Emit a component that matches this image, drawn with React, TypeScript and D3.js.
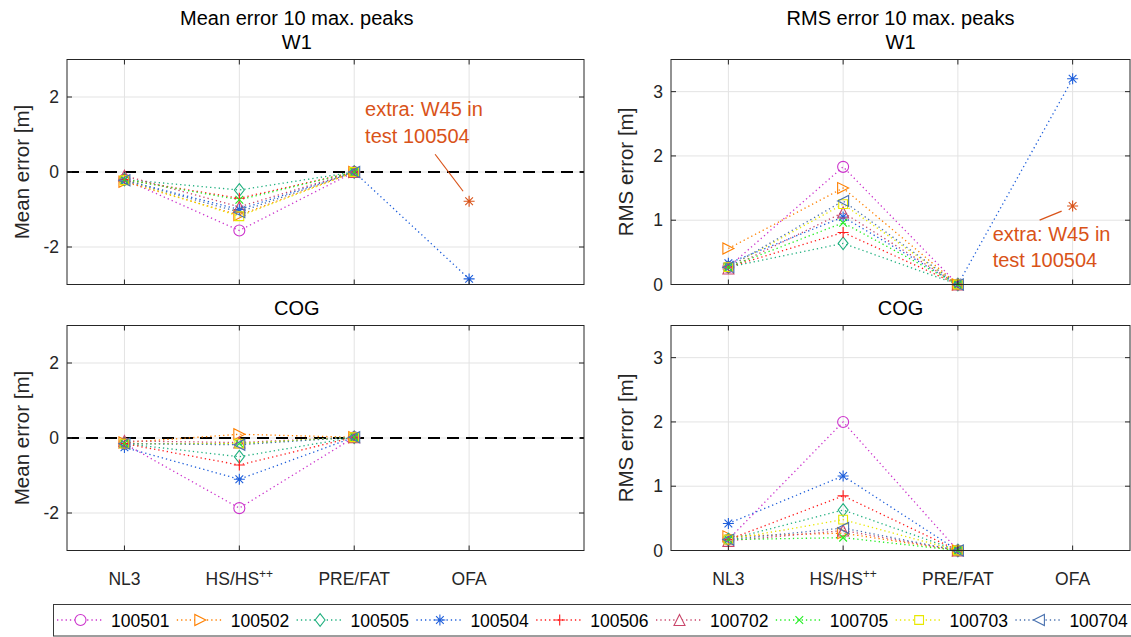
import React from "react";
import * as d3 from "d3";

const categories = ["NL3", "HS/HS++", "PRE/FAT", "OFA"];
const seriesNames = ["100501", "100502", "100505", "100504", "100506", "100702", "100705", "100703", "100704"];
const seriesColors = ["#CC33CC", "#FF8000", "#20B07F", "#1F5FDB", "#FF1A1A", "#C9476B", "#22EE22", "#E8E800", "#4A72B0"];
const seriesMarkers = ["o", ">", "d", "*", "+", "^", "x", "s", "<"];
const N = NaN;

const meanW1 = [
  [-0.2, -1.56, 0, N],
  [-0.26, -1.15, 0, N],
  [-0.2, -0.48, 0, N],
  [-0.22, -1.0, 0, -2.85],
  [-0.2, -0.7, 0, N],
  [-0.1, -0.93, 0, N],
  [-0.2, -0.74, 0, N],
  [-0.22, -1.18, 0, N],
  [-0.22, -1.07, 0, N],
];
const rmsW1 = [
  [0.27, 1.83, 0, N],
  [0.56, 1.5, 0, N],
  [0.27, 0.64, 0, N],
  [0.33, 1.05, 0, 3.2],
  [0.27, 0.81, 0, N],
  [0.25, 1.12, 0, N],
  [0.27, 0.96, 0, N],
  [0.27, 1.25, 0, N],
  [0.27, 1.3, 0, N],
];
const meanCOG = [
  [-0.15, -1.87, 0.02, N],
  [-0.12, 0.1, 0.02, N],
  [-0.15, -0.5, 0.02, N],
  [-0.25, -1.1, 0.02, N],
  [-0.15, -0.72, 0.02, N],
  [-0.08, -0.12, 0.02, N],
  [-0.15, -0.15, 0.02, N],
  [-0.15, -0.15, 0.02, N],
  [-0.15, -0.18, 0.02, N],
];
const rmsCOG = [
  [0.17, 2.0, 0, N],
  [0.22, 0.27, 0, N],
  [0.17, 0.63, 0, N],
  [0.42, 1.16, 0, N],
  [0.17, 0.85, 0, N],
  [0.15, 0.31, 0, N],
  [0.17, 0.2, 0, N],
  [0.17, 0.48, 0, N],
  [0.17, 0.35, 0, N],
];
const extraMeanW1 = -0.78;
const extraRmsW1 = 1.22;
const extraColor = "#D95319";

const FONT = "'Liberation Sans', Arial, Helvetica, sans-serif";
const AX = "#262626";
const GRID = "#e3e3e3";

function markerPath(type: string, s: number): string {
  switch (type) {
    case "o":
      return `M${s},0A${s},${s} 0 1,1 ${-s},0A${s},${s} 0 1,1 ${s},0Z`;
    case ">":
      return `M${s},0L${-s},${-s}L${-s},${s}Z`;
    case "<":
      return `M${-s},0L${s},${-s}L${s},${s}Z`;
    case "^":
      return `M0,${-s}L${s},${s}L${-s},${s}Z`;
    case "d":
      return `M0,${-s * 1.15}L${s * 0.9},0L0,${s * 1.15}L${-s * 0.9},0Z`;
    case "s": {
      const a = s * 0.8;
      return `M${-a},${-a}L${a},${-a}L${a},${a}L${-a},${a}Z`;
    }
    case "+":
      return `M${-s},0L${s},0M0,${-s}L0,${s}`;
    case "x": {
      const a = s * 0.7;
      return `M${-a},${-a}L${a},${a}M${-a},${a}L${a},${-a}`;
    }
    case "*": {
      const a = s * 0.7;
      return `M${-s},0L${s},0M0,${-s}L0,${s}M${-a},${-a}L${a},${a}M${-a},${a}L${a},${-a}`;
    }
  }
  return "";
}

type PanelProps = {
  x0: number; x1: number; y0: number; y1: number; xmax: number;
  ydom: [number, number]; yticks: number[]; data: number[][];
  zero: boolean; showX: boolean; title: string; title2?: string;
  ylabel: string; ylabelX: number; titleAtCenterData: boolean;
  extra?: number; extraText?: { dx: number; dy1: number; dy2: number; lx1: number; ly1: number; lx2: number; ly2: number };
};

function Panel(p: PanelProps) {
  const x = d3.scaleLinear().domain([0.5, p.xmax]).range([p.x0, p.x1]);
  const y = d3.scaleLinear().domain(p.ydom).range([p.y1, p.y0]);
  const line = d3
    .line<number>()
    .defined((d) => !isNaN(d))
    .x((_, i) => x(i + 1))
    .y((d) => y(d));
  const tl = 5;
  const titleX = p.titleAtCenterData ? x(2.5) : (p.x0 + p.x1) / 2;
  const ms = 5.5;
  return (
    <g>
      {categories.map((_, i) => (
        <line key={"gx" + i} x1={x(i + 1)} x2={x(i + 1)} y1={p.y0} y2={p.y1} stroke={GRID} strokeWidth={1} />
      ))}
      {p.yticks.map((t) => (
        <line key={"gy" + t} x1={p.x0} x2={p.x1} y1={y(t)} y2={y(t)} stroke={GRID} strokeWidth={1} />
      ))}
      {p.zero && (
        <line x1={p.x0} x2={p.x1} y1={y(0)} y2={y(0)} stroke="#000" strokeWidth={2} strokeDasharray="12,7" />
      )}
      {p.data.map((row, si) => (
        <path key={"l" + si} d={line(row) || ""} fill="none" stroke={seriesColors[si]} strokeWidth={1.3} strokeDasharray="1.3,3" />
      ))}
      {p.data.map((row, si) =>
        row.map((v, i) =>
          isNaN(v) ? null : (
            <path
              key={"m" + si + "-" + i}
              d={markerPath(seriesMarkers[si], ms)}
              transform={`translate(${x(i + 1)},${y(v)})`}
              fill="none"
              stroke={seriesColors[si]}
              strokeWidth={1.1}
            />
          )
        )
      )}
      {p.extra !== undefined && p.extraText && (
        <g>
          <path
            d={markerPath("*", ms)}
            transform={`translate(${x(4)},${y(p.extra)})`}
            fill="none"
            stroke={extraColor}
            strokeWidth={1.1}
          />
          <line
            x1={x(4) + p.extraText.lx1}
            y1={y(p.extra) + p.extraText.ly1}
            x2={x(4) + p.extraText.lx2}
            y2={y(p.extra) + p.extraText.ly2}
            stroke={extraColor}
            strokeWidth={1.2}
          />
          <text x={x(4) + p.extraText.dx} y={y(p.extra) + p.extraText.dy1} fill={extraColor} fontSize={20} fontFamily={FONT}>
            extra: W45 in
          </text>
          <text x={x(4) + p.extraText.dx} y={y(p.extra) + p.extraText.dy2} fill={extraColor} fontSize={20} fontFamily={FONT}>
            test 100504
          </text>
        </g>
      )}
      <rect x={p.x0} y={p.y0} width={p.x1 - p.x0} height={p.y1 - p.y0} fill="none" stroke={AX} strokeWidth={1} />
      {categories.map((_, i) => (
        <g key={"tx" + i}>
          <line x1={x(i + 1)} x2={x(i + 1)} y1={p.y1} y2={p.y1 - tl} stroke={AX} />
          <line x1={x(i + 1)} x2={x(i + 1)} y1={p.y0} y2={p.y0 + tl} stroke={AX} />
        </g>
      ))}
      {p.yticks.map((t) => (
        <g key={"ty" + t}>
          <line x1={p.x0} x2={p.x0 + tl} y1={y(t)} y2={y(t)} stroke={AX} />
          <line x1={p.x1} x2={p.x1 - tl} y1={y(t)} y2={y(t)} stroke={AX} />
          <text x={p.x0 - 8} y={y(t) + 6} textAnchor="end" fontSize={17.5} fontFamily={FONT} fill={AX}>
            {t < 0 ? "-" + Math.abs(t) : String(t)}
          </text>
        </g>
      ))}
      {p.showX &&
        categories.map((c, i) => (
          <text key={"xl" + i} x={x(i + 1)} y={p.y1 + 34} textAnchor="middle" fontSize={17.5} fontFamily={FONT} fill={AX}>
            {c === "HS/HS++" ? (
              <>
                <tspan>HS/HS</tspan>
                <tspan dy={-7} fontSize={12}>++</tspan>
              </>
            ) : (
              c
            )}
          </text>
        ))}
      {p.title2 && (
        <text x={titleX} y={p.y0 - 35} textAnchor="middle" fontSize={20} fontFamily={FONT} fill="#000">
          {p.title2}
        </text>
      )}
      <text x={titleX} y={p.y0 - 11} textAnchor="middle" fontSize={20} fontFamily={FONT} fill="#000">
        {p.title}
      </text>
      <text
        transform={`translate(${p.ylabelX},${(p.y0 + p.y1) / 2}) rotate(-90)`}
        textAnchor="middle"
        fontSize={20.5}
        fontFamily={FONT}
        fill={AX}
      >
        {p.ylabel}
      </text>
    </g>
  );
}

function Legend() {
  const x0 = 57;
  const step = 119.8;
  const ly = 620;
  return (
    <g>
      <rect x={53.5} y={604.5} width={1090} height={31.5} fill="#fff" stroke="#3a3a3a" strokeWidth={1} />
      {seriesNames.map((name, i) => {
        const sx = x0 + i * step;
        return (
          <g key={name}>
            <line x1={sx} x2={sx + 47} y1={ly} y2={ly} stroke={seriesColors[i]} strokeWidth={1.3} strokeDasharray="1.3,3" />
            <path d={markerPath(seriesMarkers[i], 5.5)} transform={`translate(${sx + 23.5},${ly})`} fill="#fff" stroke={seriesColors[i]} strokeWidth={1.1} />
            <text x={sx + 54} y={ly + 6.5} fontSize={17.5} fontFamily={FONT} fill="#000">
              {name}
            </text>
          </g>
        );
      })}
    </g>
  );
}

export default function App() {
  return (
    <svg width={1131} height={637} style={{ position: "absolute", left: 0, top: 0, background: "#fff" }}>
      <rect x={0} y={0} width={1131} height={637} fill="#fff" />
      <Panel
        x0={67} x1={584} y0={59.5} y1={284.5} xmax={5} ydom={[-3, 3]} yticks={[-2, 0, 2]}
        data={meanW1} zero={true} showX={false} title="W1" title2="Mean error 10 max. peaks"
        ylabel="Mean error [m]" ylabelX={29} titleAtCenterData={true}
        extra={extraMeanW1}
        extraText={{ dx: -104, dy1: -85, dy2: -58, lx1: -34, ly1: -47, lx2: -6, ly2: -10 }}
      />
      <Panel
        x0={671} x1={1130} y0={59.5} y1={284.5} xmax={4.5} ydom={[0, 3.5]} yticks={[0, 1, 2, 3]}
        data={rmsW1} zero={false} showX={false} title="W1" title2="RMS error 10 max. peaks"
        ylabel="RMS error [m]" ylabelX={633} titleAtCenterData={false}
        extra={extraRmsW1}
        extraText={{ dx: -80, dy1: 35, dy2: 61, lx1: -33, ly1: 14, lx2: -11, ly2: 5 }}
      />
      <Panel
        x0={67} x1={584} y0={325.5} y1={550.5} xmax={5} ydom={[-3, 3]} yticks={[-2, 0, 2]}
        data={meanCOG} zero={true} showX={true} title="COG"
        ylabel="Mean error [m]" ylabelX={29} titleAtCenterData={true}
      />
      <Panel
        x0={671} x1={1130} y0={325.5} y1={550.5} xmax={4.5} ydom={[0, 3.5]} yticks={[0, 1, 2, 3]}
        data={rmsCOG} zero={false} showX={true} title="COG"
        ylabel="RMS error [m]" ylabelX={633} titleAtCenterData={false}
      />
      <Legend />
    </svg>
  );
}
